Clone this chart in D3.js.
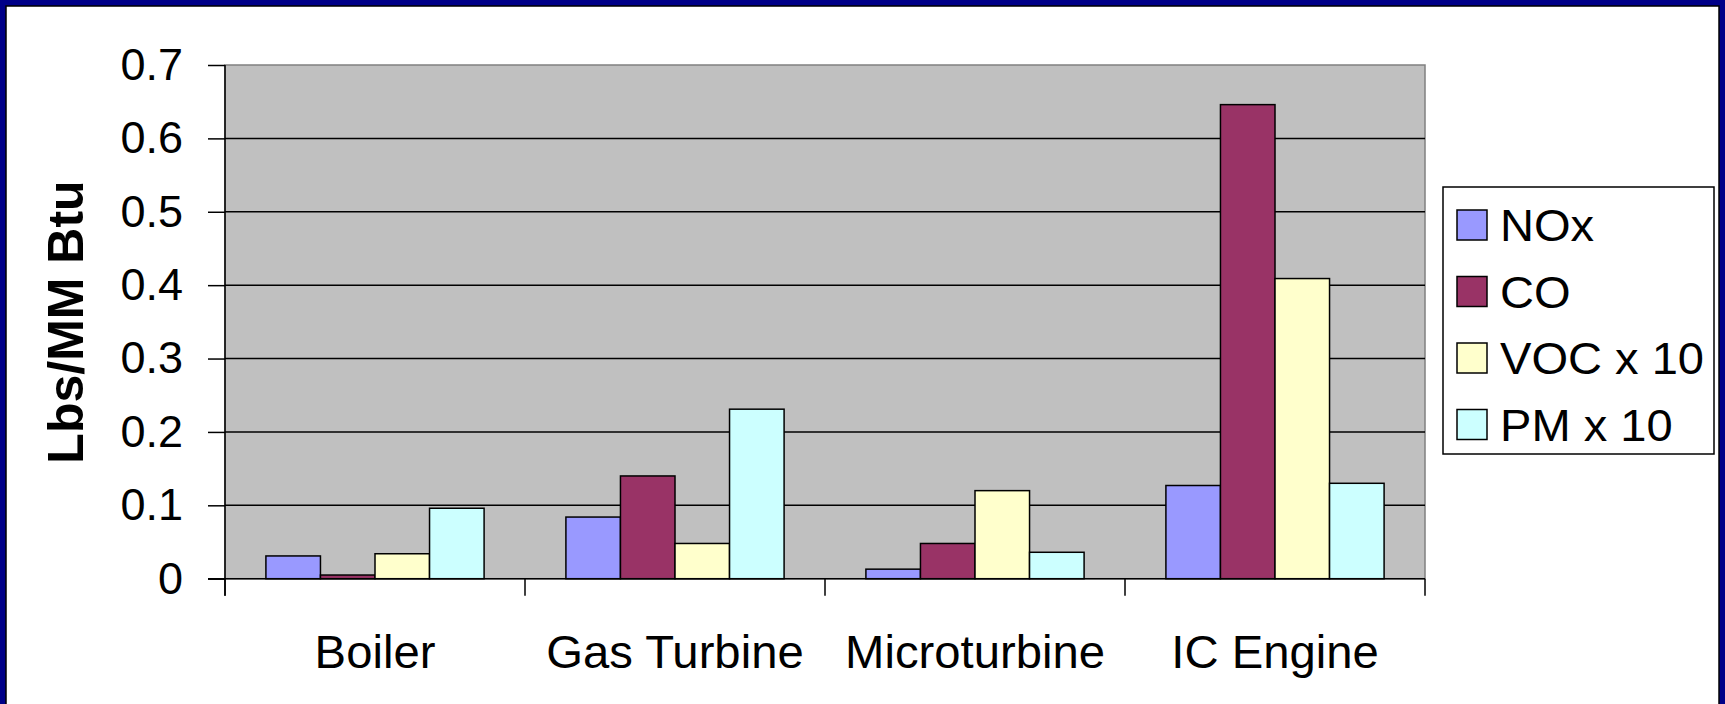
<!DOCTYPE html>
<html>
<head>
<meta charset="utf-8">
<script src="https://cdn.jsdelivr.net/npm/d3@7"></script>
<style>
  html, body { margin: 0; padding: 0; background: #fff; }
  svg { display: block; }
  text { font-family: "Liberation Sans", Arial, sans-serif; fill: #000; }
</style>
</head>
<body>
<svg id="chart" width="1725" height="704"></svg>
<script>
// Emission factors by generator type (lbs per MM Btu)
const categories = ["Boiler", "Gas Turbine", "Microturbine", "IC Engine"];
const seriesNames = ["NOx", "CO", "VOC x 10", "PM x 10"];
const noxValues = [0.031, 0.084, 0.013, 0.127];
const coValues  = [0.005, 0.140, 0.048, 0.646];
const vocValues = [0.034, 0.048, 0.120, 0.409];
const pmValues  = [0.096, 0.231, 0.036, 0.130];
const yTickValues = [0, 0.1, 0.2, 0.3, 0.4, 0.5, 0.6, 0.7];
const yTickLabels = ["0", "0.1", "0.2", "0.3", "0.4", "0.5", "0.6", "0.7"];
const seriesColors = ["#9999FF", "#993366", "#FFFFCC", "#CCFFFF"];

const seriesValues = [noxValues, coValues, vocValues, pmValues];
const rows = categories.map((c, i) => ({
  category: c,
  values: seriesNames.map((s, j) => ({ series: s, value: seriesValues[j][i] }))
}));

const svg = d3.select("#chart");
const W = 1725, H = 704;
const plot = { left: 225, right: 1425, top: 65, bottom: 578.7 };

// slide frame
svg.append("rect").attr("x", 0).attr("y", 0).attr("width", W).attr("height", H).attr("fill", "#000088");
svg.append("rect").attr("x", 6).attr("y", 6).attr("width", W - 12).attr("height", H)
  .attr("fill", "#fff").attr("stroke", "#000").attr("stroke-width", 1.5);

const x0 = d3.scaleBand().domain(categories).range([plot.left, plot.right]).paddingInner(0).paddingOuter(0);
const x1 = d3.scaleBand().domain(seriesNames).range([0, x0.bandwidth()]).paddingInner(0).paddingOuter(0.75);
const y = d3.scaleLinear().domain([0, 0.7]).range([plot.bottom, plot.top]);
const color = d3.scaleOrdinal().domain(seriesNames).range(seriesColors);

// plot area
svg.append("rect")
  .attr("x", plot.left).attr("y", plot.top)
  .attr("width", plot.right - plot.left).attr("height", plot.bottom - plot.top)
  .attr("fill", "#C0C0C0").attr("stroke", "#808080").attr("stroke-width", 1.5);

// gridlines
svg.append("g")
  .selectAll("line")
  .data(yTickValues.filter(v => v > 0 && v < 0.7))
  .join("line")
  .attr("x1", plot.left).attr("x2", plot.right)
  .attr("y1", d => y(d)).attr("y2", d => y(d))
  .attr("stroke", "#000").attr("stroke-width", 1.5);

// bars
const groups = svg.append("g")
  .selectAll("g")
  .data(rows)
  .join("g")
  .attr("transform", d => `translate(${x0(d.category)},0)`);

groups.selectAll("rect")
  .data(d => d.values)
  .join("rect")
  .attr("x", d => x1(d.series))
  .attr("y", d => y(d.value))
  .attr("width", x1.bandwidth())
  .attr("height", d => y(0) - y(d.value))
  .attr("fill", d => color(d.series))
  .attr("stroke", "#000").attr("stroke-width", 1.5);

// y axis
const yAxis = d3.axisLeft(y)
  .tickValues(yTickValues)
  .tickFormat((d, i) => yTickLabels[i])
  .tickSizeInner(17).tickSizeOuter(0).tickPadding(25);
const gy = svg.append("g").attr("transform", `translate(${plot.left},0)`).call(yAxis);
gy.select(".domain").attr("stroke", "#000").attr("stroke-width", 1.5)
  .attr("d", `M0,${plot.top}V${plot.bottom + 17}`);
gy.selectAll(".tick line").attr("stroke", "#000").attr("stroke-width", 1.5);
gy.selectAll(".tick text")
  .style("font-family", '"Liberation Sans", Arial, sans-serif')
  .style("font-size", "45px").attr("fill", "#000");

// x axis
const xAxis = d3.axisBottom(x0).tickSize(0).tickPadding(0);
const gx = svg.append("g").attr("transform", `translate(0,${plot.bottom})`).call(xAxis);
gx.select(".domain").attr("stroke", "#000").attr("stroke-width", 1.5)
  .attr("d", `M${plot.left - 17},0H${plot.right}`);
gx.selectAll(".tick text")
  .attr("y", 0).attr("dy", 0)
  .attr("transform", "translate(0,89) scale(1.05,1.04)")
  .style("font-family", '"Liberation Sans", Arial, sans-serif')
  .style("font-size", "45px").attr("fill", "#000");
// category separator ticks
const boundaries = categories.map(c => x0(c)).concat([x0(categories[categories.length - 1]) + x0.bandwidth()]);
gx.append("g").selectAll("line")
  .data(boundaries)
  .join("line")
  .attr("x1", d => d).attr("x2", d => d)
  .attr("y1", 0).attr("y2", 17)
  .attr("stroke", "#000").attr("stroke-width", 1.5);

// y axis title
svg.append("text")
  .attr("transform", `translate(83,322) rotate(-90)`)
  .attr("text-anchor", "middle")
  .style("font-size", "50px").style("font-weight", "bold")
  .text("Lbs/MM Btu");

// legend
const legend = svg.append("g");
legend.append("rect")
  .attr("x", 1443).attr("y", 187).attr("width", 271).attr("height", 267)
  .attr("fill", "#fff").attr("stroke", "#000").attr("stroke-width", 1.5);
const items = legend.selectAll("g.item")
  .data(seriesNames)
  .join("g").attr("class", "item")
  .attr("transform", (d, i) => `translate(1457,${210 + i * 66.5})`);
items.append("rect")
  .attr("width", 30).attr("height", 30)
  .attr("fill", d => color(d)).attr("stroke", "#000").attr("stroke-width", 1.5);
items.append("text")
  .attr("transform", "translate(43,31) scale(1.07,1)")
  .style("font-size", "44px")
  .text(d => d);
</script>
</body>
</html>
